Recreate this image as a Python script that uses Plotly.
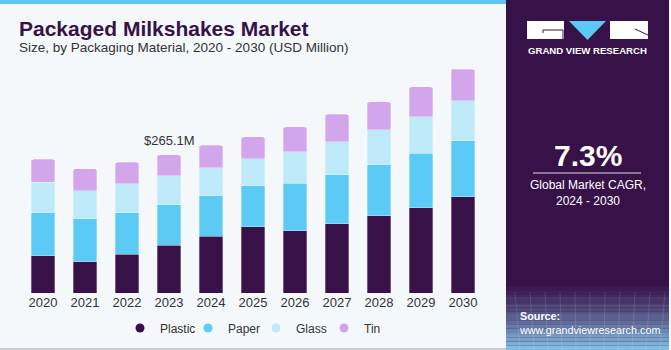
import plotly.graph_objects as go

years = ["2020", "2021", "2022", "2023", "2024", "2025", "2026", "2027", "2028", "2029", "2030"]
plastic = [72.1, 60.6, 74.8, 92.0, 109.3, 127.7, 120.0, 132.8, 148.2, 164.1, 184.6]
paper = [82.4, 82.4, 79.7, 77.3, 77.8, 78.0, 90.9, 93.9, 98.3, 104.3, 107.9]
glass = [58.3, 53.1, 55.6, 55.6, 53.7, 52.3, 60.0, 63.8, 67.1, 69.6, 76.7]
tin = [44.1, 42.7, 41.0, 40.3, 42.9, 41.6, 47.9, 52.5, 53.1, 57.5, 60.2]
series_names = ["Plastic", "Paper", "Glass", "Tin"]
series_colors = ["#371148", "#5BCAF5", "#BDE9F9", "#D3A6EC"]
callout_year = "2023"
callout_text = "$265.1M"
cagr_text = "7.3%"

W, H = 671, 350
BG = "#F4F8FB"
PANEL = "#371249"


def px(x):
    return x / W


def py(y):
    return 1 - y / H


fig = go.Figure()
for name, vals, col in zip(series_names, [plastic, paper, glass, tin], series_colors):
    fig.add_trace(go.Bar(
        x=years, y=vals, name=name, marker_color=col,
        marker_line=dict(width=0.6, color="rgba(255,255,255,0.5)"),
        showlegend=False, hoverinfo="skip"))
for name, col in zip(series_names, series_colors):
    fig.add_trace(go.Scatter(
        x=[None], y=[None], mode="markers", name=name,
        marker=dict(symbol="circle", size=9, color=col), showlegend=True))

totals = [a + b + c + d for a, b, c, d in zip(plastic, paper, glass, tin)]
ci = years.index(callout_year)

shapes = []
# top blue strip
shapes.append(dict(type="rect", xref="paper", yref="paper", x0=0, x1=px(506), y0=py(4), y1=1,
                   fillcolor="#5CC6F0", line_width=0, layer="below"))
# bottom gray line
shapes.append(dict(type="rect", xref="paper", yref="paper", x0=0, x1=px(506), y0=0, y1=py(348),
                   fillcolor="#C8CCD0", line_width=0, layer="below"))
# right panel
shapes.append(dict(type="rect", xref="paper", yref="paper", x0=px(506), x1=px(669), y0=0, y1=1,
                   fillcolor=PANEL, line_width=0, layer="below"))
# panel gradient at bottom
n = 16
top_g, bot_g = 282, 350
c0 = (0x37, 0x12, 0x49)
c1 = (0x86, 0xC4, 0xEA)
for i in range(n):
    t = (i + 0.5) / n
    t2 = t ** 1.3
    r = int(c0[0] + (c1[0] - c0[0]) * t2)
    g = int(c0[1] + (c1[1] - c0[1]) * t2)
    b = int(c0[2] + (c1[2] - c0[2]) * t2)
    y0p = top_g + (bot_g - top_g) * i / n
    y1p = top_g + (bot_g - top_g) * (i + 1) / n
    shapes.append(dict(type="rect", xref="paper", yref="paper", x0=px(506), x1=px(669),
                       y0=py(y1p), y1=py(y0p), fillcolor=f"rgb({r},{g},{b})", line_width=0, layer="below"))
# faint grid lines in gradient area
for k in range(1, 12):
    xx = 506 + k * 14
    shapes.append(dict(type="line", xref="paper", yref="paper", x0=px(xx), x1=px(xx - 6 + k), y0=0, y1=py(292),
                       line=dict(color="rgba(255,255,255,0.12)", width=1), layer="below"))
for yy in [298, 306, 315, 325, 336]:
    shapes.append(dict(type="line", xref="paper", yref="paper", x0=px(506), x1=px(669), y0=py(yy), y1=py(yy),
                       line=dict(color="rgba(255,255,255,0.12)", width=1), layer="below"))
# logo
shapes.append(dict(type="rect", xref="paper", yref="paper", x0=px(527), x1=px(564), y0=py(39), y1=py(21),
                   fillcolor="white", line_width=0))
shapes.append(dict(type="rect", xref="paper", yref="paper", x0=px(610), x1=px(648), y0=py(39), y1=py(21),
                   fillcolor="white", line_width=0))
shapes.append(dict(type="path", xref="paper", yref="paper",
                   path=f"M {px(569)} {py(21)} L {px(606)} {py(21)} L {px(587.5)} {py(40)} Z",
                   fillcolor="#5BC8F5", line_width=0))
shapes.append(dict(type="path", xref="paper", yref="paper",
                   path=f"M {px(543)} {py(33)} L {px(543)} {py(30)} L {px(563)} {py(30)} L {px(563)} {py(39)}",
                   line=dict(color=PANEL, width=1)))
shapes.append(dict(type="line", xref="paper", yref="paper", x0=px(635), x1=px(648), y0=py(29), y1=py(35),
                   line=dict(color=PANEL, width=1)))
# line under CAGR
shapes.append(dict(type="line", xref="paper", yref="paper", x0=px(533), x1=px(641), y0=py(173), y1=py(173),
                   line=dict(color="rgba(255,255,255,0.85)", width=1)))

annotations = [
    dict(text="<b>Packaged Milkshakes Market</b>", xref="paper", yref="paper", x=px(17), y=py(29),
         xanchor="left", yanchor="middle", showarrow=False,
         font=dict(family="Liberation Sans, Arial", size=21, color="#371148")),
    dict(text="Size, by Packaging Material, 2020 - 2030 (USD Million)", xref="paper", yref="paper",
         x=px(17), y=py(48), xanchor="left", yanchor="middle", showarrow=False,
         font=dict(family="Liberation Sans, Arial", size=13.5, color="#333333")),
    dict(text=callout_text, x=ci, y=totals[ci], xref="x", yref="y", yshift=14,
         showarrow=False, font=dict(family="Liberation Sans, Arial", size=13, color="#333333")),
    dict(text="<b>GRAND VIEW RESEARCH</b>", xref="paper", yref="paper", x=px(587.5), y=py(51),
         xanchor="center", yanchor="middle", showarrow=False,
         font=dict(family="Liberation Sans, Arial", size=9.6, color="white")),
    dict(text=f"<b>{cagr_text}</b>", xref="paper", yref="paper", x=px(588), y=py(155),
         xanchor="center", yanchor="middle", showarrow=False,
         font=dict(family="Liberation Sans, Arial", size=30, color="white")),
    dict(text="Global Market CAGR,<br>2024 - 2030", xref="paper", yref="paper", x=px(588), y=py(193),
         xanchor="center", yanchor="middle", showarrow=False, align="center",
         font=dict(family="Liberation Sans, Arial", size=12, color="white")),
    dict(text="<b>Source:</b><br>www.grandviewresearch.com", xref="paper", yref="paper", x=px(517), y=py(323),
         xanchor="left", yanchor="middle", showarrow=False, align="left",
         font=dict(family="Liberation Sans, Arial", size=10.8, color="white")),
]

fig.update_layout(
    width=W, height=H, margin=dict(l=0, r=0, t=0, b=0),
    paper_bgcolor=BG, plot_bgcolor=BG,
    barmode="stack", bargap=0.43, barcornerradius=3,
    xaxis=dict(type="category", domain=[px(22), px(484)], showgrid=False, zeroline=False, showline=False,
               ticks="", tickfont=dict(family="Liberation Sans, Arial", size=13, color="#333333"),
               range=[-0.5, 10.5], fixedrange=True),
    yaxis=dict(domain=[py(293.3), py(60)], range=[0, 447], visible=False, fixedrange=True),
    legend=dict(orientation="h", x=px(256), xanchor="center", y=py(328), yanchor="middle",
                font=dict(family="Liberation Sans, Arial", size=12, color="#333333"),
                bgcolor="rgba(0,0,0,0)", itemwidth=30, traceorder="normal",
                entrywidth=23, entrywidthmode="pixels"),
    shapes=shapes, annotations=annotations,
)

fig.write_html("out.html")
